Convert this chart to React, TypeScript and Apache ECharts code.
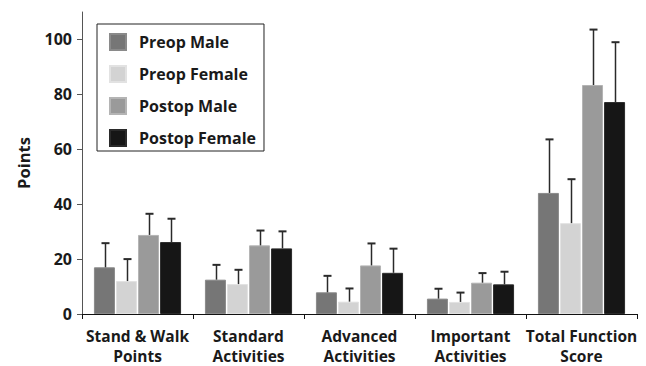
import React, { useEffect, useRef } from "react";
import * as echarts from "echarts";

const categories = [
  "Stand & Walk\nPoints",
  "Standard\nActivities",
  "Advanced\nActivities",
  "Important\nActivities",
  "Total Function\nScore",
];
const seriesNames = ["Preop Male", "Preop Female", "Postop Male", "Postop Female"];
const seriesColors = ["#767676", "#d3d3d3", "#9a9a9a", "#161616"];
const borderColors = ["#8a8a8a", "#e2e2e2", "#b4b4b4", "#2a2a2a"];

const preopMale = [17.0, 12.5, 7.9, 5.6, 44.1];
const preopFemale = [12.0, 10.9, 4.5, 4.4, 33.1];
const postopMale = [28.8, 25.0, 17.7, 11.4, 83.4];
const postopFemale = [26.2, 23.9, 15.0, 10.8, 77.2];

const preopMaleUpper = [25.8, 17.9, 13.9, 9.2, 63.6];
const preopFemaleUpper = [20.0, 16.1, 9.3, 7.8, 49.1];
const postopMaleUpper = [36.5, 30.4, 25.7, 14.9, 103.6];
const postopFemaleUpper = [34.7, 30.1, 23.8, 15.4, 99.0];

const yTicks = [0, 20, 40, 60, 80, 100];

const means = [preopMale, preopFemale, postopMale, postopFemale];
const uppers = [preopMaleUpper, preopFemaleUpper, postopMaleUpper, postopFemaleUpper];

const FONT = "'Open Sans', 'Noto Sans', sans-serif";
const BAR_W = 21;
const BAR_STEP = 22;

export default function App() {
  const ref = useRef<HTMLDivElement>(null);
  useEffect(() => {
    if (!ref.current) return;
    const chart = echarts.init(ref.current, null, { renderer: "svg" });

    const errData: number[][] = [];
    means.forEach((m, s) => {
      m.forEach((v, c) => {
        errData.push([c, v, uppers[s][c], s]);
      });
    });

    const barSeries = seriesNames.map((name, s) => ({
      name,
      type: "bar",
      data: means[s],
      barWidth: BAR_W,
      barGap: "5%",
      itemStyle: { color: seriesColors[s], borderColor: borderColors[s], borderWidth: 1 },
      z: 2,
    }));

    const option: any = {
      animation: false,
      backgroundColor: "#ffffff",
      grid: { left: 82, right: 9, top: 12, bottom: 51, containLabel: false },
      legend: {
        orient: "vertical",
        left: 97,
        top: 24,
        data: seriesNames,
        icon: "rect",
        itemWidth: 16,
        itemHeight: 16,
        itemGap: 14,
        padding: [9, 8, 4, 12],
        borderColor: "#222",
        borderWidth: 1,
        selectedMode: false,
        textStyle: {
          fontFamily: FONT,
          fontWeight: "bold",
          fontSize: 16,
          lineHeight: 16,
          color: "#1a1a1a",
          padding: [0, 0, 0, 8],
        },
      },
      xAxis: {
        type: "category",
        data: categories,
        axisLine: { show: true, lineStyle: { color: "#111", width: 1 } },
        axisTick: { show: true, alignWithLabel: false, length: 5, lineStyle: { color: "#111" } },
        axisLabel: {
          interval: 0,
          margin: 12,
          fontFamily: FONT,
          fontWeight: "bold",
          fontSize: 15.5,
          lineHeight: 20,
          color: "#1a1a1a",
        },
      },
      yAxis: {
        type: "value",
        min: 0,
        max: 110,
        interval: 20,
        name: "Points",
        nameLocation: "middle",
        nameGap: 50,
        nameRotate: 90,
        nameTextStyle: { fontFamily: FONT, fontWeight: "bold", fontSize: 16.5, color: "#1a1a1a" },
        axisLine: { show: true, lineStyle: { color: "#555", width: 1 } },
        axisTick: { show: true, length: 5, lineStyle: { color: "#555" }, customValues: yTicks },
        axisLabel: {
          margin: 10,
          fontFamily: FONT,
          fontWeight: "bold",
          fontSize: 16,
          color: "#1a1a1a",
          customValues: yTicks,
        },
        splitLine: { show: false },
      },
      series: [
        ...barSeries,
        {
          type: "custom",
          name: "err",
          z: 5,
          data: errData,
          renderItem: (params: any, api: any) => {
            const c = api.value(0);
            const s = api.value(3);
            const base = api.coord([c, api.value(1)]);
            const top = api.coord([c, api.value(2)]);
            const x = Math.round(base[0] + (s - 1.5) * BAR_STEP) + 0.5;
            const style = { stroke: "#2a2a2a", lineWidth: 1.5 };
            return {
              type: "group",
              children: [
                { type: "line", shape: { x1: x, y1: base[1], x2: x, y2: top[1] }, style },
                { type: "line", shape: { x1: x - 4, y1: top[1], x2: x + 4, y2: top[1] }, style: { stroke: "#2a2a2a", lineWidth: 2 } },
              ],
            };
          },
        },
      ],
    };
    chart.setOption(option);
    return () => chart.dispose();
  }, []);
  return <div ref={ref} style={{ width: 646, height: 366, position: "absolute", left: 0, top: 0 }} />;
}
